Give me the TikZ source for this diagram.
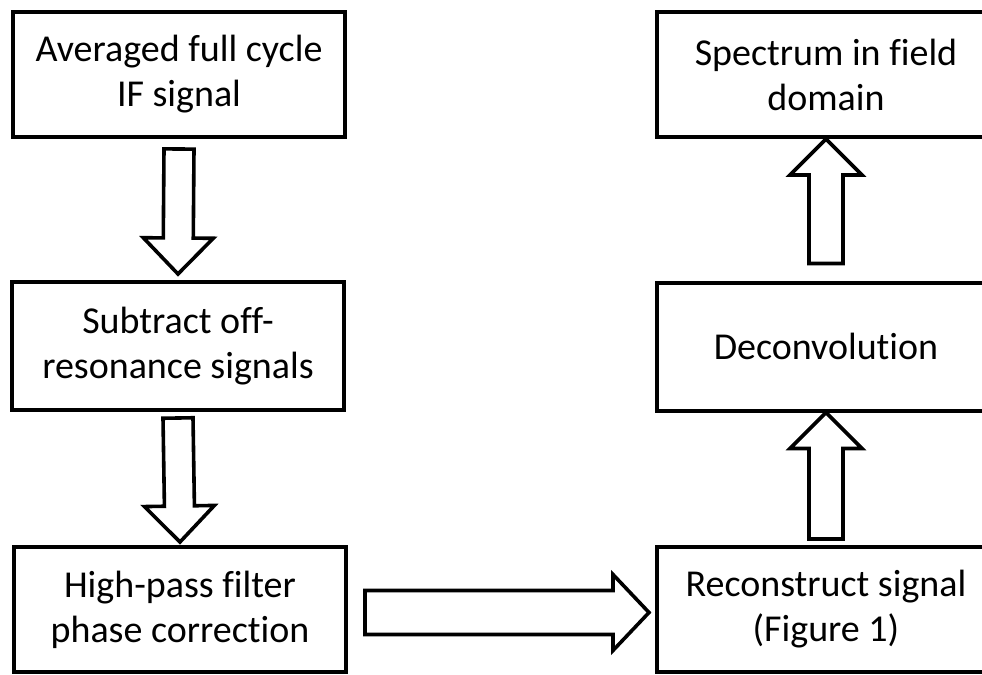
\documentclass[tikz,border=0pt]{standalone}
\usepackage{fontspec}
\setmainfont{Carlito}[Ligatures={NoCommon}]
\usetikzlibrary{calc}

% hollow block arrow from #1 to #2, shaft half width #3, head half width #4
\newcommand{\fatarrow}[4]{%
  \coordinate (fa-s) at (#1);
  \coordinate (fa-e) at (#2);
  \coordinate (fa-h) at ($(fa-e)!18pt!(fa-s)$);
  \draw[blockarrow]
    ($(fa-s)!#3!90:(fa-e)$) -- ($(fa-h)!#3!90:(fa-e)$) --
    ($(fa-h)!#4!90:(fa-e)$) -- (fa-e) --
    ($(fa-h)!#4!-90:(fa-e)$) -- ($(fa-h)!#3!-90:(fa-e)$) --
    ($(fa-s)!#3!-90:(fa-e)$) -- cycle;
}

\begin{document}
\begin{tikzpicture}[
    x=0.5pt, y=-0.5pt,
    stage/.style={draw, line width=2pt, fill=white, inner sep=0pt,
                  minimum height=62.5pt, align=center,
                  font=\fontsize{19}{22.5}\selectfont},
    left stage/.style={stage, minimum width=166pt},
    right stage/.style={stage, minimum width=169pt},
    blockarrow/.style={draw, line width=1.8pt, fill=white, line join=miter},
]
\useasboundingbox (0,0) rectangle (982,675);
\clip (0,0) rectangle (982,675);

% === Left column ===
\node[left stage] (avg) at (179,74.5)  {Averaged full cycle\\IF signal};
\node[left stage, minimum height=64pt] (sub) at (178,346)
  {Subtract off-\\resonance signals};
\node[left stage] (hpf) at (180,609.5) {High-pass filter\\phase correction};

% === Right column ===
\node[right stage] (spec) at (826,74.5) {Spectrum in field\\domain};
\node[right stage, minimum height=64pt] (deconv) at (826,346.5) {Deconvolution};
\node[right stage] (recon) at (826,609.5) {Reconstruct signal\\(Figure 1)};

% === Block arrows ===
\fatarrow{$(avg.south)+(0,10)$}{$(sub.north)+(0,-6)$}{7.5pt}{17.5pt}
\fatarrow{$(sub.south)+(0,6)$}{$(hpf.north)+(0,-3)$}{7.5pt}{17.5pt}
\fatarrow{$(hpf.east)+(17,3)$}{$(recon.west)+(-6,3)$}{11pt}{19pt}
\fatarrow{$(recon.north)+(0,-6)$}{$(deconv.south)+(0,0)$}{8.5pt}{18pt}
\fatarrow{$(deconv.north)+(0,-17)$}{$(spec.south)+(0,0)$}{8.5pt}{18pt}

\end{tikzpicture}
\end{document}
